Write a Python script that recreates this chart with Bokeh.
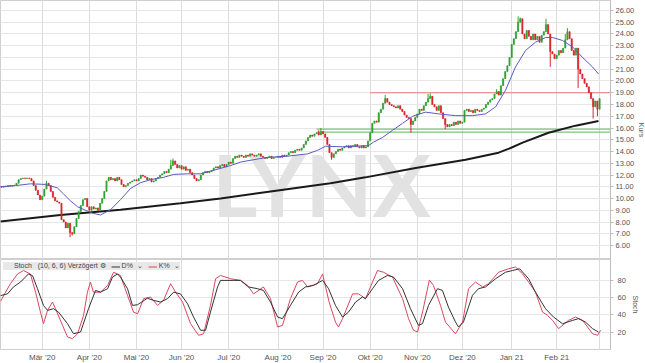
import numpy as np
import pandas as pd
from bokeh.plotting import figure
from bokeh.models import (ColumnDataSource, Range1d, FixedTicker, NumeralTickFormatter,
                          Legend, LegendItem)
from bokeh.layouts import column
from bokeh.embed import file_html
from bokeh.resources import INLINE
from bokeh.core.properties import value

# ---------------- data ----------------
start_date = "2020-02-03"
first_open = 11.05
close = [
    11.0, 10.95, 11.05, 11.0, 11.1, 11.05, 11.1, 11.15, 11.3, 11.6,
    11.7, 11.75, 11.7, 11.75, 11.7,
    11.5, 11.1, 10.7, 10.3, 9.9,
    10.2, 10.8, 11.3, 11.1,
    10.6, 10.1, 9.8,
    9.7, 9.6, 8.2,
    8.0, 7.5, 7.9, 7.1, 7.0,
    7.6, 8.3, 8.9,
    9.4, 9.9, 10.0,
    9.3, 9.0, 9.3, 9.1,
    9.2, 9.0, 9.6,
    10.0, 10.6, 11.5,
    11.8, 11.6, 11.7, 11.5, 11.8,
    11.6, 11.2, 11.0, 11.1, 11.3,
    11.4, 11.5, 11.6, 11.5, 11.7, 12.0,
    11.9, 11.8, 11.6, 11.7, 11.4, 11.5,
    11.7, 11.8, 12.0, 12.1, 12.3, 12.2, 12.5,
    12.8, 13.2, 12.9,
    12.6, 12.8, 12.5, 12.7, 12.4, 12.5,
    12.2, 12.0, 11.7, 11.5, 11.6,
    12.0, 12.2, 12.3, 12.2, 12.3, 12.4,
    12.6, 12.7, 12.6, 12.8, 12.9, 12.7, 12.9, 13.1, 13.0,
    13.4, 13.6, 13.5, 13.7, 13.6, 13.5, 13.7, 13.6, 13.8, 13.7, 13.6, 13.7, 13.8,
    13.6, 13.5, 13.4, 13.5, 13.6, 13.4, 13.5, 13.5, 13.6, 13.5, 13.7, 13.6, 13.7,
    13.9, 14.0, 13.9, 14.1, 14.2, 14.1, 14.3,
    14.6, 14.9, 15.2, 15.4, 15.3, 15.5, 15.6, 15.4,
    15.7, 15.5, 15.2,
    14.6, 13.9, 13.5, 13.8,
    14.0, 14.2, 14.1, 14.3,
    14.4, 14.5, 14.3, 14.5, 14.4, 14.6, 14.4, 14.3, 14.5, 14.3, 14.4,
    14.9, 15.6, 16.4,
    16.6, 16.5, 17.3,
    17.6, 18.1, 18.5,
    18.2, 18.0, 17.9, 17.8, 17.7, 17.9, 17.6, 17.4,
    17.1, 16.9, 16.8, 16.3, 16.6, 16.9,
    17.2, 17.6, 17.5, 17.9, 18.2,
    18.5, 18.7,
    18.0, 17.8, 17.5, 17.9, 17.3,
    16.8, 16.3, 16.1,
    16.3, 16.2, 16.5, 16.3, 16.6, 16.4, 16.5,
    17.5, 17.6, 17.4,
    17.5, 17.3, 17.6, 17.5, 17.4, 17.6, 17.7,
    18.0, 18.2, 18.4, 18.5,
    18.9, 19.1, 18.8,
    19.6, 20.2, 20.8,
    21.3, 22.0, 23.1, 23.6,
    24.2, 25.0, 25.3,
    24.0, 23.6, 24.3, 23.8, 23.5, 24.0,
    23.5, 23.8, 23.3, 23.9, 24.2,
    24.8, 24.0,
    22.5, 22.3, 21.9,
    22.2, 22.6, 22.4, 22.8,
    23.5, 24.2, 23.6,
    22.6, 22.2, 22.8,
    21.0, 20.6, 20.2, 19.8,
    19.5, 19.0, 18.5,
    17.8, 18.3, 17.6,
    18.5,
]
wick_high = {20: 10.2, 22: 11.5, 80: 13.3, 81: 13.4, 149: 15.8, 150: 16.0,
             180: 18.8, 200: 18.9, 201: 18.95, 232: 19.3, 242: 25.5, 243: 25.4,
             255: 25.3, 264: 24.0, 265: 24.5}
wick_low = {33: 6.7, 34: 6.85, 155: 13.3, 192: 15.6, 208: 15.9, 257: 21.2,
            270: 19.4, 277: 16.8, 279: 17.0}

sma20_x = [0.5, 7.5, 14.5, 21.5, 27.1, 29.9, 33.2, 36.5, 40.2, 43.5, 47.2, 51.9,
           56.5, 61.2, 65.9, 70.5, 76.6, 81.3, 87.8, 93.9, 99.9, 107.8, 112.5,
           118.6, 125.1, 134.4, 143.8, 148.4, 152.2, 160.1, 172.2, 174.6, 178.8,
           183.4, 188.1, 192.8, 198.8, 204.9, 212.8, 220.7, 226.8, 231.5, 236.1,
           240.8, 245.5, 250.1, 254.8, 258.1, 262.7, 267.4, 272.1, 276.7, 279.5]
sma20_y = [11.0, 11.1, 11.25, 11.2, 10.9, 10.4, 9.8, 9.3, 9.0, 8.75, 8.6, 9.05,
           9.9, 10.85, 11.35, 11.6, 11.8, 12.05, 12.1, 12.1, 12.4, 12.8, 13.1,
           13.3, 13.5, 13.6, 13.8, 14.1, 14.45, 14.4, 14.5, 14.8, 15.2,
           15.8, 16.4, 17.0, 17.35, 17.2, 17.05, 17.05, 17.2, 17.8, 19.2,
           21.2, 22.6, 23.3, 23.7, 23.7, 23.45, 22.9, 22.0, 21.2, 20.6]

sma200_x = [0.5, 28.5, 56.5, 84.5, 103.2, 126.5, 154.5, 170.8, 194.2, 217.5,
            232.9, 238.5, 244.1, 256.2, 268.8, 279.5]
sma200_y = [8.05, 8.6, 9.05, 9.6, 10.0, 10.6, 11.3, 11.8, 12.6, 13.3,
            13.9, 14.3, 14.75, 15.6, 16.2, 16.6]

stoch_d_x = [0.5, 3.8, 6.6, 9.9, 13.6, 15.5, 17.8, 20.6, 22.5, 25.3, 27.6, 31.8,
             34.6, 37.9, 41.6, 44.9, 47.2, 50.5, 52.8, 55.1, 56.5, 59.8, 62.1,
             64.5, 69.1, 71.9, 75.2, 78.5, 81.3, 84.5, 87.8, 90.6, 93.9, 96.2,
             98.5, 101.8, 103.2, 109.2, 112.5, 116.2, 120.4, 123.2, 126.5, 129.8,
             132.1, 135.8, 139.6, 142.8, 146.6, 150.8, 153.6, 156.8, 160.1, 162.9,
             166.2, 169.4, 170.8, 174.1, 176.9, 181.1, 183.9, 188.1, 191.8, 195.5,
             197.4, 200.2, 204.4, 206.7, 209.5, 212.8, 214.2, 216.5, 220.7, 223.5,
             226.8, 231.5, 236.1, 239.4, 242.7, 246.9, 250.1, 254.8, 258.5, 262.7,
             267.4, 270.2, 273.4, 276.7, 279.5]
stoch_d_y = [62, 64, 72, 77.7, 87, 85, 70, 50.7, 45, 46.9, 43, 29.6,
             18, 20, 46.9, 68, 66, 70, 83.4, 87, 83.4, 70, 50.7,
             51.5, 59, 56.5, 54.6, 58.5, 66, 64, 52.6, 37.3, 22, 22,
             43, 72, 79.6, 79.6, 79.6, 72, 70, 68, 54.6, 37.3,
             35.4, 50.7, 66, 72, 73.8, 79.6, 70, 50.7, 37.3, 43,
             54.6, 60.4, 58.5, 70, 79.6, 85.3, 83.4, 70, 46.9, 27.7,
             29.6, 50.7, 70, 68, 48.8, 31.5, 25.8, 31.5, 62.3, 70,
             72, 81.5, 89, 91, 93, 81.5, 66, 46.9, 37.3, 29.6,
             33.4, 35.4, 31.5, 23.9, 20]

stoch_k_x = [0.5, 2.9, 5.2, 8.5, 11.3, 14.5, 16.9, 19.2, 20.6, 22.5, 24.8, 26.2,
             29.5, 31.8, 34.1, 36.5, 39.3, 41.1, 42.5, 43.9, 47.2, 50.5, 53.3,
             56.5, 59.8, 62.6, 64.5, 67.3, 70.5, 73.8, 76.6, 79.9, 82.2, 85.5,
             89.2, 92.9, 95.3, 98.5, 100.9, 103.2, 107.9, 112.5, 115.8, 118.6,
             123.2, 126.5, 129.8, 132.1, 135.8, 139.1, 141.4, 143.8, 148.4, 150.8,
             153.8, 156.8, 158.2, 160.1, 164.8, 167.6, 170.8, 174.1, 176.4, 179.2,
             183.4, 188.1, 190.9, 193.2, 195.1, 197.6, 200.6, 202.5, 205.8, 208.1,
             212.8, 216.1, 218.9, 222.1, 225.4, 228.2, 232.9, 237.5, 240.8, 244.1,
             246.9, 250.1, 253.4, 255.7, 258.1, 260.9, 265.5, 268.8, 272.1, 276.7,
             279.1, 280.5]
stoch_k_y = [55, 66, 75.8, 87, 91, 87, 66, 43, 29.6, 45, 54.6, 46.9,
             27.7, 14.3, 12.3, 18, 39.2, 66, 77.7, 66, 66, 73.8, 89,
             85.3, 62.3, 43, 41, 58.5, 60.4, 50.7, 56.5, 75.8, 66, 54.6,
             29.6, 16.2, 18, 50.7, 81.5, 85.3, 81.5, 79.6, 73.8, 64,
             72, 58.5, 25.8, 27.7, 58.5, 77.7, 79.6, 72, 75.8, 87,
             55, 31.5, 25.8, 35.4, 64, 64, 58.5, 77.7, 91, 89,
             83.4, 58.5, 35.4, 22, 20, 45, 80, 73.8, 50.7, 31.5,
             18, 31.5, 70, 77.7, 72, 75.8, 89, 93, 95, 87,
             77.7, 66, 43, 39.2, 33.4, 23.9, 33.4, 37.3, 33.4, 18,
             16.2, 22]

month_labels = ["Mär '20", "Apr '20", "Mai '20", "Jun '20", "Jul '20", "Aug '20",
                "Sep '20", "Okt '20", "Nov '20", "Dez '20", "Jan 21", "Feb 21", ""]
price_ticks = list(range(6, 27))
stoch_ticks = [20, 40, 60, 80]

resistance_level = 19.0
resistance_start = "2020-10-01"
support_levels = [15.9, 15.65]
support_start = "2020-08-27"

# ---------------- derived ----------------
n = len(close)
dates = pd.bdate_range(start_date, periods=n)
idx = list(range(n))
opens = [first_open] + close[:-1]
hi = [max(o, c) for o, c in zip(opens, close)]
lo = [min(o, c) for o, c in zip(opens, close)]
for k, v in wick_high.items():
    hi[k] = max(hi[k], v)
for k, v in wick_low.items():
    lo[k] = min(lo[k], v)
UP, DOWN = "#33a133", "#d8262c"
colors = [UP if c >= o else DOWN for o, c in zip(opens, close)]
src = ColumnDataSource(dict(x=idx, top=[max(a, b) for a, b in zip(opens, close)],
                            bot=[min(a, b) for a, b in zip(opens, close)],
                            hi=hi, lo=lo, col=colors))

month_idx = [int(i) for i in range(1, n) if dates[i].month != dates[i - 1].month]
overrides = {int(m): lab for m, lab in zip(month_idx, month_labels)}
res_i = int(np.searchsorted(dates, pd.Timestamp(resistance_start)))
sup_i = int(np.searchsorted(dates, pd.Timestamp(support_start)))

TXT = "#555555"
GRID = "#e6e6e6"
VGRID = "#dcdcdc"

xr = Range1d(0.55, 285.1)

# ---------------- main price panel ----------------
p = figure(frame_width=610, frame_height=259, x_range=xr, y_range=Range1d(4.81, 26.85),
           output_backend="svg", toolbar_location=None, x_axis_location=None,
           y_axis_location="right", min_border_left=0, min_border_right=35,
           min_border_top=0, min_border_bottom=0, outline_line_color="#cfcfcf")
p.xgrid.ticker = FixedTicker(ticks=month_idx)
p.xgrid.grid_line_color = VGRID
p.ygrid.ticker = FixedTicker(ticks=price_ticks)
p.ygrid.grid_line_color = GRID
ax = p.yaxis[0]
ax.ticker = FixedTicker(ticks=price_ticks)
ax.formatter = NumeralTickFormatter(format="0.00")
ax.axis_label = "Kurs"
ax.axis_label_text_font_size = "7px"
ax.axis_label_text_font_style = "normal"
ax.axis_label_text_color = TXT
ax.axis_label_standoff = 1
ax.major_label_text_font_size = "7.5px"
ax.major_label_text_color = TXT
ax.major_label_standoff = 2
ax.major_tick_out = 3
ax.major_tick_in = 0
ax.minor_tick_out = 0
ax.minor_tick_in = 0
ax.axis_line_color = "#bdbdbd"
ax.major_tick_line_color = "#bdbdbd"

# watermark, drawn first so it sits behind the price marks
p.text(x=[150.3], y=[11.3], text=["LYNX"], text_font=value("Lato"),
       text_font_style="bold", text_font_size="87px", text_color="#e2e2e2",
       text_align="center", text_baseline="middle")

p.segment(x0=[res_i], y0=[resistance_level], x1=[n + 10], y1=[resistance_level],
          line_color="#f07878", line_width=1.2)
p.segment(x0=[sup_i] * len(support_levels), y0=support_levels,
          x1=[n + 10] * len(support_levels), y1=support_levels,
          line_color="#7cc47c", line_width=1.2)

p.line(sma200_x, sma200_y, line_color="#1a1a1a", line_width=2)
p.segment(x0="x", y0="lo", x1="x", y1="hi", line_color="col", line_width=1, source=src)
p.vbar(x="x", width=0.6, top="top", bottom="bot", fill_color="col", line_color="col",
       line_width=0.5, source=src)
p.line(sma20_x, sma20_y, line_color="#5a5ac0", line_width=1)

# ---------------- stochastic panel ----------------
s = figure(frame_width=610, frame_height=90, x_range=xr, y_range=Range1d(-0.2, 103.7),
           output_backend="svg", toolbar_location=None, x_axis_location="below",
           y_axis_location="right", min_border_left=0, min_border_right=35,
           min_border_top=0, min_border_bottom=0, outline_line_color="#cfcfcf")
s.xgrid.ticker = FixedTicker(ticks=month_idx)
s.xgrid.grid_line_color = VGRID
s.ygrid.ticker = FixedTicker(ticks=stoch_ticks)
s.ygrid.grid_line_color = GRID
xa = s.xaxis[0]
xa.ticker = FixedTicker(ticks=month_idx)
xa.major_label_overrides = overrides
xa.major_label_text_font_size = "8px"
xa.major_label_text_color = TXT
xa.major_label_standoff = 3
xa.major_tick_out = 0
xa.major_tick_in = 0
xa.minor_tick_out = 0
xa.minor_tick_in = 0
xa.axis_line_alpha = 0
ya = s.yaxis[0]
ya.ticker = FixedTicker(ticks=stoch_ticks)
ya.axis_label = "Stoch"
ya.axis_label_text_font_size = "7px"
ya.axis_label_text_font_style = "normal"
ya.axis_label_text_color = TXT
ya.axis_label_standoff = 3
ya.major_label_text_font_size = "7.5px"
ya.major_label_text_color = TXT
ya.major_label_standoff = 4
ya.major_tick_out = 3
ya.major_tick_in = 0
ya.minor_tick_out = 0
ya.minor_tick_in = 0
ya.axis_line_color = "#bdbdbd"
ya.major_tick_line_color = "#bdbdbd"

rk = s.line(stoch_k_x, stoch_k_y, line_color="#d9475f", line_width=1)
rd = s.line(stoch_d_x, stoch_d_y, line_color="#333333", line_width=1)
head = s.line(x=[], y=[], line_alpha=0)   # header entry of the indicator legend

leg = Legend(items=[LegendItem(label="Stoch   (10, 6, 6) Verzögert \u2699", renderers=[head]),
                    LegendItem(label="D%  \u2304", renderers=[rd]),
                    LegendItem(label="K%  \u2304", renderers=[rk])],
             orientation="horizontal", location="top_left",
             background_fill_color="#e8e8e8", background_fill_alpha=1.0,
             border_line_color=None, label_text_font_size="7px",
             label_text_color="#444444",
             glyph_width=9, glyph_height=7, label_standoff=2, label_height=7,
             spacing=5, padding=2, margin=3)
s.add_layout(leg)

layout = column(p, s, spacing=0)
open("out.html", "w").write(file_html(layout, INLINE))
